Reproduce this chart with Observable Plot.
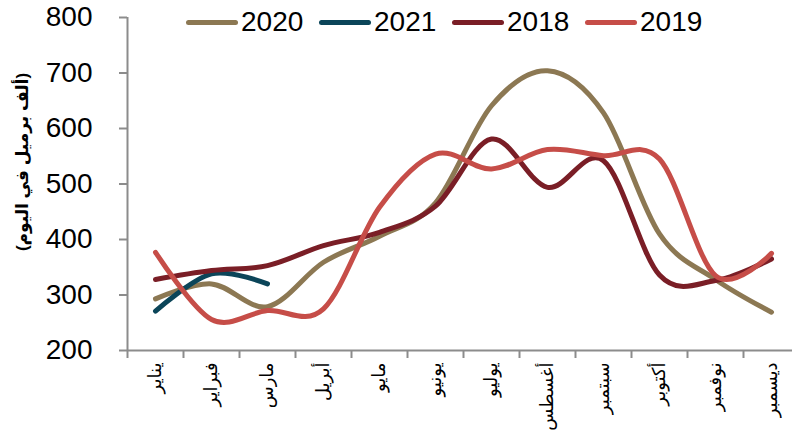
<!DOCTYPE html>
<html>
<head>
<meta charset="utf-8">
<script src="https://cdn.jsdelivr.net/npm/d3@7"></script>
<script src="https://cdn.jsdelivr.net/npm/@observablehq/plot@0.6"></script>
<style>
  body { margin: 0; background: #fff; }
  #wrap { position: relative; width: 792px; height: 446px; overflow: hidden;
          font-family: "Liberation Sans", Arial, "DejaVu Sans", sans-serif; }
  #legend .item { position: absolute; top: 6px; height: 32px; display: flex; align-items: center; }
  #legend .swatch { width: 52px; height: 5px; border-radius: 3px; margin-right: 3px; }
  #legend .lbl { font-size: 28px; color: #000; line-height: 32px; }
</style>
</head>
<body>
<div id="wrap"><div id="chart"></div><div id="legend"></div></div>
<script>
const months = ["يناير","فبراير","مارس","أبريل","مايو","يونيو","يوليو","أغسطس","سبتمبر","أكتوبر","نوفمبر","ديسمبر"];
const seriesNames = ["2020","2021","2018","2019"];
const seriesColors = ["#8C7853","#0B4559","#7A1E26","#C64D48"];
const v2020 = [293,320,279,359,406,466,641,704,628,410,328,269];
const v2021 = [271,338,320];
const v2018 = [328,344,353,389,413,460,581,494,542,336,326,365];
const v2019 = [377,256,272,275,458,554,527,562,551,545,335,375];
const yTicks = [200,300,400,500,600,700,800];
const yTitle = "\u200F(ألف برميل في اليوم)\u200F";

const seriesValues = {"2020": v2020, "2021": v2021, "2018": v2018, "2019": v2019};
const rows = [];
for (const name of seriesNames) {
  seriesValues[name].forEach((v, i) => rows.push({series: name, m: i, value: v}));
}
const monthIdx = months.map((_, i) => i);
const boundaries = d3.range(-0.5, months.length, 1);

const axisColor = "#8c8c8c";
const chart = Plot.plot({
  width: 792,
  height: 446,
  marginLeft: 127,
  marginTop: 17,
  marginBottom: 96,
  marginRight: 0,
  style: {fontFamily: "'Liberation Sans', Arial, 'DejaVu Sans', sans-serif", color: "#000", background: "#fff", overflow: "visible"},
  x: {type: "linear", domain: [-0.5, months.length - 0.5], range: [127, 799], axis: null, label: null},
  y: {domain: [200, 800], range: [350, 17], axis: null, label: null},
  color: {domain: seriesNames, range: seriesColors},
  marks: [
    Plot.ruleX([-0.5], {stroke: axisColor, strokeWidth: 2}),
    Plot.ruleY([200], {stroke: axisColor, strokeWidth: 2}),
    Plot.axisY({ticks: yTicks, tickSize: 8, stroke: axisColor, strokeWidth: 2, tickFormat: () => "", label: null}),
    Plot.axisY({ticks: yTicks, tickSize: 0, tickPadding: 35, fontSize: 28, fill: "#000", label: null}),
    Plot.axisX({ticks: boundaries, tickSize: 8, stroke: axisColor, strokeWidth: 2, tickFormat: () => "", label: null}),
    Plot.axisX({ticks: monthIdx, tickSize: 0, tickPadding: 12, tickRotate: -90, fontSize: 18,
                fill: "#000", tickFormat: i => months[i], label: null}),
    Plot.text([yTitle], {frameAnchor: "left", textAnchor: "middle", dx: -105, dy: -22, rotate: -90,
                         fontWeight: "bold", fontSize: 17, fill: "#000"}),
    Plot.line(rows, {x: "m", y: "value", z: "series", stroke: "series", strokeWidth: 5,
                     curve: "cardinal", strokeLinecap: "round", strokeLinejoin: "round"})
  ]
});
document.getElementById("chart").appendChild(chart);

const legend = document.getElementById("legend");
seriesNames.forEach((name, i) => {
  const item = document.createElement("div");
  item.className = "item";
  item.style.left = (186 + i * 133) + "px";
  item.innerHTML = `<div class="swatch" style="background:${seriesColors[i]}"></div><span class="lbl">${name}</span>`;
  legend.appendChild(item);
});
</script>
</body>
</html>
